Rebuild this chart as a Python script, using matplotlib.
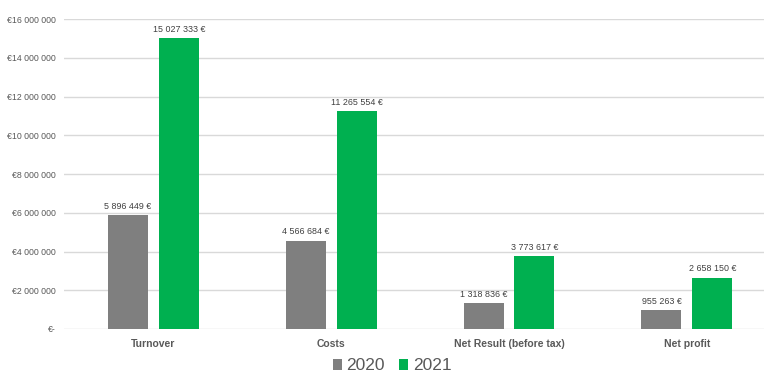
import matplotlib.pyplot as plt
import numpy as np

plt.rcParams['font.family'] = ['Liberation Sans', 'DejaVu Sans']

# data
categories = ["Turnover", "Costs", "Net Result (before tax)", "Net profit"]
values_2020 = [5896449, 4566684, 1318836, 955263]
values_2021 = [15027333, 11265554, 3773617, 2658150]
years = ["2020", "2021"]
colors = ["#7f7f7f", "#00b050"]


def fmt_space(v):
    return f"{v:,}".replace(",", " ")


fig = plt.figure(figsize=(7.64, 3.72), dpi=100)
ax = fig.add_axes([0.0844, 0.1156, 0.931, 0.833])

x = np.arange(len(categories))
w = 0.225
off = 0.143
for vals, dx, col, lab in [(values_2020, -off, colors[0], years[0]),
                           (values_2021, off, colors[1], years[1])]:
    bars = ax.bar(x + dx, vals, w, color=col, label=lab, zorder=3)
    for b, v in zip(bars, vals):
        ax.text(b.get_x() + b.get_width() / 2, v + 220000, fmt_space(v) + " €",
                ha="center", va="bottom", fontsize=6.4, color="#404040")

ax.set_xlim(-0.5, 3.5)
ax.set_ylim(0, 16000000)
yt = np.arange(0, 16000001, 2000000)
ax.set_yticks(yt)
ax.set_yticklabels(["€-"] + ["€" + fmt_space(v) for v in yt[1:]],
                   fontsize=6.3, color="#595959")
ax.set_xticks(x)
ax.set_xticklabels(categories, fontsize=7.5, fontweight="bold", color="#595959")
ax.tick_params(axis="both", length=0)
ax.tick_params(axis="y", pad=6.5)
ax.tick_params(axis="x", pad=7)
ax.grid(axis="y", color="#d9d9d9", linewidth=1, zorder=0)
for s in ax.spines.values():
    s.set_visible(False)

fig.legend(loc="center", bbox_to_anchor=(392 / 764, 1 - 366 / 372), ncol=2,
           frameon=False, fontsize=12.5, handlelength=0.55, handleheight=0.55,
           handletextpad=0.25, columnspacing=0.8, labelcolor="#595959")

fig.savefig("out.png", dpi=100)
